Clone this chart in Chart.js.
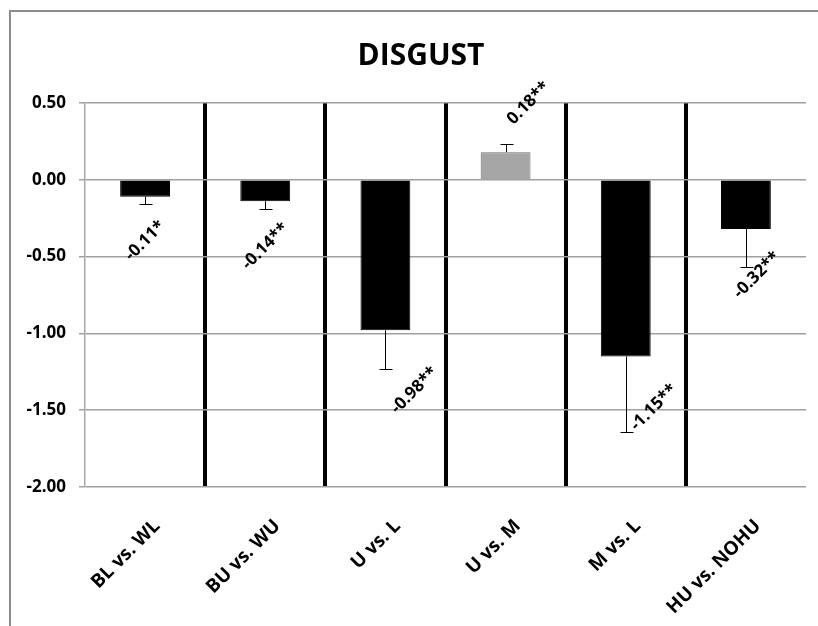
<!DOCTYPE html>
<html><head><meta charset="utf-8">
<script src="https://cdn.jsdelivr.net/npm/chart.js@4"></script>
<style>
html,body{margin:0;padding:0;background:#fff;overflow:hidden;width:818px;height:626px}
#frame{position:absolute;left:9px;top:10px;width:1000px;height:1000px;border-left:2px solid #8c8c8c;border-top:2px solid #8c8c8c;}
#c{position:absolute;left:0;top:0}
</style></head><body>
<div id="frame"></div>
<canvas id="c" width="818" height="626"></canvas>
<script>
// ---- data ----
const categories = ['BL vs. WL', 'BU vs. WU', 'U vs. L', 'U vs. M', 'M vs. L', 'HU vs. NOHU'];
const meanDiff = [-0.11, -0.14, -0.98, 0.18, -1.15, -0.32];
const errorSize = [0.046, 0.05, 0.25, 0.054, 0.49, 0.245];
const valueLabels = ['-0.11*', '-0.14**', '-0.98**', '0.18**', '-1.15**', '-0.32**'];
const yTickValues = [0.5, 0, -0.5, -1, -1.5, -2];
const chartTitle = 'DISGUST';

// ---- styles ----
const FONT = "'Open Sans', 'DejaVu Sans', sans-serif";
const barColors = meanDiff.map(v => v > 0 ? '#a6a6a6' : '#000000');
const barBorders = meanDiff.map(v => v > 0 ? '#6e6e6e' : '#000000');
// label placement relative to bar end (pixels), as in the reference
const labelShift = [[0, 44], [0, 45], [29, 60], [23, -49], [28, 51], [11, 46]];

const noLabelClip = {
  id: 'noLabelClip',
  beforeDraw(chart) {
    const y = chart.scales.y;
    if (y) { y._computeLabelArea = function () { return undefined; }; }
  }
};

const errorBarPlugin = {
  id: 'errorBars',
  afterDatasetsDraw(chart) {
    const ys = chart.scales.y;
    const meta = chart.getDatasetMeta(0);
    const ctx = chart.ctx;
    ctx.save();
    ctx.strokeStyle = '#000';
    ctx.lineWidth = 1;
    meta.data.forEach((bar, i) => {
      const v = meanDiff[i];
      const e = errorSize[i];
      const yStart = ys.getPixelForValue(v);
      const yEnd = Math.round(ys.getPixelForValue(v + Math.sign(v) * e)) + 0.5;
      const x = Math.round(bar.x) + 0.5;
      ctx.beginPath();
      ctx.moveTo(x, yStart);
      ctx.lineTo(x, yEnd);
      ctx.moveTo(x - 6, yEnd);
      ctx.lineTo(x + 7, yEnd);
      ctx.stroke();
    });
    ctx.restore();
  }
};

const valueLabelPlugin = {
  id: 'valueLabels',
  afterDatasetsDraw(chart) {
    const meta = chart.getDatasetMeta(0);
    const ctx = chart.ctx;
    ctx.save();
    ctx.font = 'bold 17px ' + FONT;
    ctx.fillStyle = '#000';
    ctx.textAlign = 'center';
    ctx.textBaseline = 'middle';
    meta.data.forEach((bar, i) => {
      const [dx, dy] = labelShift[i];
      ctx.save();
      ctx.translate(bar.x + dx, bar.y + dy);
      ctx.rotate(-Math.PI / 4);
      ctx.fillText(valueLabels[i], 0, 0);
      ctx.restore();
    });
    ctx.restore();
  }
};

new Chart(document.getElementById('c'), {
  type: 'bar',
  data: {
    labels: categories,
    datasets: [{
      data: meanDiff,
      backgroundColor: barColors,
      borderColor: barBorders,
      borderWidth: 1,
      barPercentage: 0.415,
      categoryPercentage: 1.0
    }]
  },
  options: {
    responsive: false,
    animation: false,
    devicePixelRatio: 1,
    layout: { padding: { left: 36, right: 12, top: 0, bottom: 0 } },
    plugins: {
      legend: { display: false },
      tooltip: { enabled: false },
      title: {
        display: true,
        text: chartTitle,
        color: '#000',
        font: { family: FONT, size: 30, weight: 'bold', lineHeight: 1.2 },
        padding: { top: 38, bottom: 29 }
      }
    },
    scales: {
      x: {
        offset: true,
        grid: {
          offset: true,
          drawTicks: false,
          color: '#000',
          lineWidth: c => (c.index > 0 && c.index < categories.length) ? 4 : 0
        },
        border: { display: false },
        ticks: {
          color: '#000',
          font: { family: FONT, size: 19, weight: 'bold' },
          minRotation: 45,
          maxRotation: 45,
          padding: 28,
          labelOffset: 12,
          autoSkip: false
        },
        afterFit(scale) { scale.height = 139; }
      },
      y: {
        min: -2,
        max: 0.5,
        afterBuildTicks(scale) { scale.ticks = yTickValues.map(v => ({ value: v })); },
        grid: {
          color: '#a0a0a0',
          lineWidth: 1.5,
          tickLength: 6,
          tickColor: '#a0a0a0'
        },
        border: { display: true, color: '#a8a8a8', width: 1.5 },
        ticks: {
          color: '#000',
          padding: 13,
          font: { family: FONT, size: 17, weight: 'bold' },
          callback: v => Number(v).toFixed(2)
        },
        afterFit(scale) { scale.width = 49; }
      }
    }
  },
  plugins: [noLabelClip, errorBarPlugin, valueLabelPlugin]
});
</script>
</body></html>
